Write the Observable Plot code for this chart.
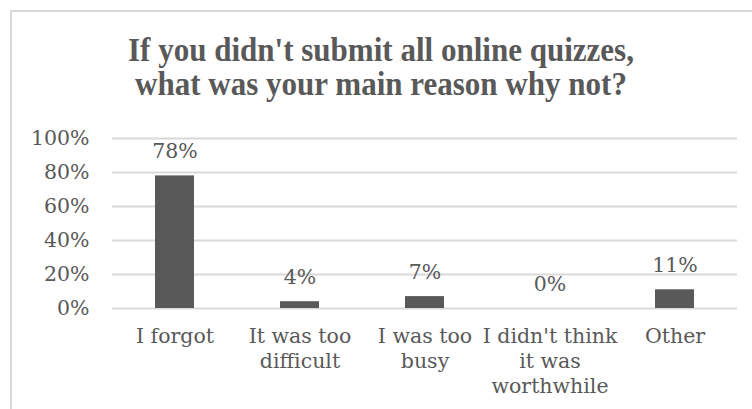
<!DOCTYPE html>
<html>
<head>
<meta charset="utf-8">
<script src="https://cdn.jsdelivr.net/npm/d3@7"></script>
<script src="https://cdn.jsdelivr.net/npm/@observablehq/plot@0.6"></script>
<style>
  html, body { margin: 0; padding: 0; background: #fff; }
  #wrap { position: relative; width: 752px; height: 409px; overflow: hidden; background: #fff; }
  #frame { position: absolute; left: 10px; top: 10px; width: 800px; height: 460px; border: 2px solid #d9d9d9; box-sizing: border-box; }
  #title { position: relative; height: 100px; box-sizing: border-box; padding-top: 33px; width: 762px;
           font-family: "Liberation Serif", "Times New Roman", serif; font-weight: bold; font-size: 33px;
           line-height: 34px; color: #595959; text-align: center; white-space: nowrap;
           transform: scaleX(0.94); transform-origin: 381px 0; }
  #chart { position: relative; }
</style>
</head>
<body>
<div id="wrap">
  <div id="frame"></div>
  <div id="title">If you didn't submit all online quizzes,<br>what was your main reason why not?</div>
  <div id="chart"></div>
</div>
<script>
const categories = ["I forgot", "It was too difficult", "I was too busy", "I didn't think it was worthwhile", "Other"];
const values = [78, 4, 7, 0, 11];
const tickLabels = ["I forgot", "It was too\ndifficult", "I was too\nbusy", "I didn't think\nit was\nworthwhile", "Other"];
const yTicks = [0, 20, 40, 60, 80, 100];

const data = categories.map((c, i) => ({category: c, value: values[i]}));
const labelOf = new Map(categories.map((c, i) => [c, tickLabels[i]]));

const textColor = "#595959";
const font = "DejaVu Serif";
const fs = 20.5;

const chart = Plot.plot({
  width: 752,
  height: 309,
  marginTop: 38,
  marginBottom: 101,
  marginLeft: 112,
  marginRight: 15,
  style: {fontFamily: font, fontSize: fs + "px", color: textColor, background: "transparent"},
  x: {domain: categories, paddingInner: 0.69, paddingOuter: 0.345, label: null},
  y: {domain: [0, 100], label: null},
  marks: [
    Plot.ruleY(yTicks, {stroke: "#d9d9d9", strokeWidth: 2}),
    Plot.barY(data, {x: "category", y: "value", fill: "#595959"}),
    Plot.text(data, {x: "category", y: "value", text: d => `${d.value}%`, lineAnchor: "bottom", dy: -17.5,
                     fill: textColor, fontSize: fs}),
    Plot.axisY({ticks: yTicks, tickFormat: d => `${d}%`, tickSize: 0, tickPadding: 23, fill: textColor, fontSize: fs, label: null}),
    Plot.axisX({tickFormat: d => labelOf.get(d), tickSize: 0, tickPadding: 17, lineHeight: 1.22, fill: textColor, fontSize: fs, label: null})
  ]
});
document.getElementById("chart").appendChild(chart);
</script>
</body>
</html>
